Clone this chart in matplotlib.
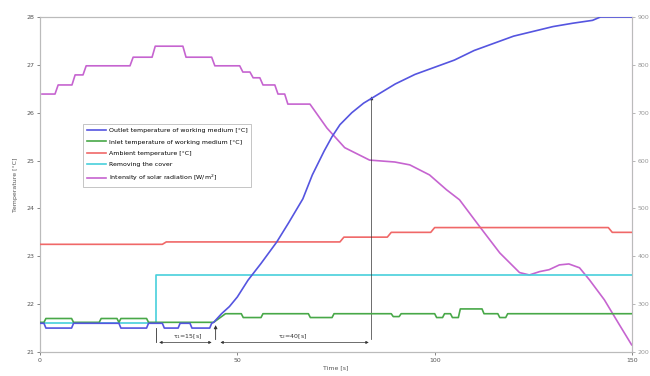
import matplotlib
matplotlib.use("Agg")
import matplotlib.pyplot as plt

# ---- data ----
t_out = [0, 1, 1.5, 8, 8.5, 20, 20.5, 27, 27.5, 31, 31.5, 35, 35.5, 38, 38.5, 43, 43.5, 44,
         46, 48, 50, 52.7, 56, 60, 63, 66.6, 69, 72, 74, 76, 79, 82, 85, 90, 95, 100,
         105, 110, 115, 120, 125, 130, 135, 140, 142, 150]
v_out = [21.6, 21.6, 21.5, 21.5, 21.6, 21.6, 21.5, 21.5, 21.6, 21.6, 21.5, 21.5, 21.6, 21.6,
         21.5, 21.5, 21.6, 21.62,
         21.8, 21.95, 22.15, 22.5, 22.85, 23.3, 23.7, 24.2, 24.7, 25.2, 25.5, 25.75, 26.0,
         26.2, 26.35, 26.6, 26.8, 26.95, 27.1, 27.3, 27.45, 27.6, 27.7, 27.8, 27.87,
         27.93, 28.0, 28.0]

t_in = [0, 1, 1.5, 8, 8.5, 15, 15.5, 19.5, 20, 20.5, 27, 27.5, 44, 47, 51, 51.5, 56, 56.5,
        68, 68.5, 74, 74.5, 89, 89.5, 91, 91.5, 100, 100.5, 102, 102.5, 104, 104.5, 106,
        106.5, 112, 112.5, 116, 116.5, 118, 118.5, 150]
v_in = [21.62, 21.62, 21.7, 21.7, 21.62, 21.62, 21.7, 21.7, 21.62, 21.7, 21.7, 21.62, 21.62,
        21.8, 21.8, 21.72, 21.72, 21.8, 21.8, 21.72, 21.72, 21.8, 21.8, 21.74, 21.74,
        21.8, 21.8, 21.72, 21.72, 21.8, 21.8, 21.72, 21.72, 21.9, 21.9, 21.8, 21.8,
        21.72, 21.72, 21.8, 21.8]

t_amb = [0, 31, 32, 76, 77, 88, 89, 99, 100, 144, 145, 150]
v_amb = [23.25, 23.25, 23.3, 23.3, 23.4, 23.4, 23.5, 23.5, 23.6, 23.6, 23.5, 23.5]

t_cov = [0, 29.5, 29.5, 150]
v_cov = [21.6, 21.6, 22.6, 22.6]

t_sol = [0.5, 3.8, 4.6, 8.1, 8.9, 10.9, 11.7, 22.8, 23.6, 28.4, 29.2, 36.2, 37.0, 43.5,
         44.3, 50.6, 51.4, 53.2, 54.0, 55.7, 56.5, 59.5, 60.3, 62.0, 62.8, 68.4, 72.7,
         77.2, 83.5, 89.9, 93.7, 98.7, 103.0, 106.3, 111.4, 116.5, 121.5, 124.0, 126.6,
         129.0, 131.6, 134.0, 136.7, 139.2, 143.0, 146.8, 149.9]
v_sol = [739, 739, 758, 758, 779, 779, 798, 798, 816, 816, 839, 839, 816, 816, 798, 798,
         785, 785, 773, 773, 758, 758, 739, 739, 718, 718, 668, 627, 601, 597, 591, 570,
         539, 518, 462, 407, 366, 361, 368, 372, 382, 384, 376, 351, 309, 257, 215]

x_ticks = [0, 50, 100, 150]
y_ticks = [21, 22, 23, 24, 25, 26, 27, 28]
r_ticks = [200, 300, 400, 500, 600, 700, 800, 900]

labels = ["Outlet temperature of working medium [\u00b0C]",
          "Inlet temperature of working medium [\u00b0C]",
          "Ambient temperature [\u00b0C]",
          "Removing the cover",
          "Intensity of solar radiation [W/m$^2$]"]

# ---- figure ----
fig = plt.figure(figsize=(6.5, 3.76), dpi=100)
ax = fig.add_axes([40 / 650, 24 / 376, 592 / 650, 335 / 376])
ax2 = ax.twinx()

c_blue, c_green, c_red, c_cyan, c_mag = "#5555e0", "#48a848", "#f06868", "#48d0dc", "#c664d0"
lw = 1.2
l1, = ax.plot(t_out, v_out, color=c_blue, lw=lw, zorder=5)
l2, = ax.plot(t_in, v_in, color=c_green, lw=lw, zorder=4)
l3, = ax.plot(t_amb, v_amb, color=c_red, lw=lw, zorder=3)
l4, = ax.plot(t_cov, v_cov, color=c_cyan, lw=lw, zorder=3)
l5, = ax2.plot(t_sol, v_sol, color=c_mag, lw=lw)

ax.set_xlim(0, 150)
ax.set_ylim(21, 28)
ax2.set_ylim(200, 900)
ax.set_xticks(x_ticks)
ax.set_yticks(y_ticks)
ax2.set_yticks(r_ticks)

for a in (ax, ax2):
    a.tick_params(labelsize=4.5, colors="#555555", length=2, width=0.5, pad=2)
    for s in a.spines.values():
        s.set_color("#bbbbbb")
        s.set_linewidth(0.8)
ax2.spines["right"].set_color("#e0a8e8")
ax2.tick_params(axis="y", colors="#999999")

ax.set_xlabel("Time [s]", fontsize=4.5, color="#555555", labelpad=2)
ax.set_ylabel("Temperature [\u00b0C]", fontsize=4.5, color="#555555", labelpad=6)

# annotations
ann_col = "#333333"
ax.plot([29.5, 29.5], [21.2, 21.5], color=ann_col, lw=0.6)
ax.annotate("", xy=(44.5, 21.62), xytext=(44.5, 21.2),
            arrowprops=dict(arrowstyle="-|>", color=ann_col, lw=0.6, mutation_scale=5))
ax.annotate("", xy=(84, 26.4), xytext=(84, 21.2),
            arrowprops=dict(arrowstyle="-|>", color=ann_col, lw=0.5, mutation_scale=5))
ax.annotate("", xy=(29.5, 21.2), xytext=(44.2, 21.2),
            arrowprops=dict(arrowstyle="<|-|>", color=ann_col, lw=0.5, mutation_scale=4))
ax.annotate("", xy=(45.0, 21.2), xytext=(84, 21.2),
            arrowprops=dict(arrowstyle="<|-|>", color=ann_col, lw=0.5, mutation_scale=4))
ax.text(37.5, 21.33, "\u03c4$_1$=15[s]", fontsize=4.5, ha="center", va="center", color=ann_col)
ax.text(64, 21.33, "\u03c4$_2$=40[s]", fontsize=4.5, ha="center", va="center", color=ann_col)

leg = ax.legend([l1, l2, l3, l4, l5], labels, loc="upper left",
                bbox_to_anchor=(0.073, 0.68), fontsize=4.5, frameon=True,
                handlelength=3.0, labelspacing=0.95, borderpad=0.6, fancybox=False,
                handletextpad=0.5, borderaxespad=0)
leg.get_frame().set_edgecolor("#aaaaaa")
leg.get_frame().set_linewidth(0.6)
ax2.set_zorder(ax.get_zorder() - 1)
ax.patch.set_visible(False)

fig.savefig("out.png", dpi=100)
